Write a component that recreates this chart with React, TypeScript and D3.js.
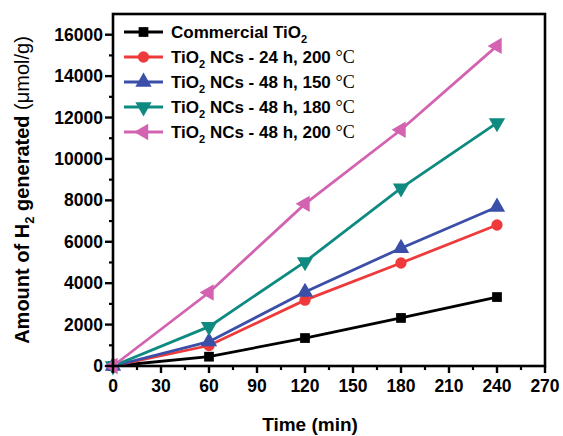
import React from "react";
import * as d3 from "d3";

const times = [0, 60, 120, 180, 240];
const seriesNames = [
  "Commercial TiO|2",
  "TiO|2| NCs - 24 h, 200 ",
  "TiO|2| NCs - 48 h, 150 ",
  "TiO|2| NCs - 48 h, 180 ",
  "TiO|2| NCs - 48 h, 200 ",
];
const commercial = [0, 450, 1350, 2320, 3330];
const nc24h200 = [0, 990, 3180, 4975, 6810];
const nc48h150 = [0, 1175, 3570, 5690, 7680];
const nc48h180 = [0, 1900, 5030, 8590, 11740];
const nc48h200 = [0, 3550, 7830, 11410, 15460];
const colors = ["#000000", "#ee3a3a", "#3b4ea8", "#0e8a80", "#d363b1"];
const markers = ["square", "circle", "up", "down", "left"];
const xTicks = [0, 30, 60, 90, 120, 150, 180, 210, 240, 270];
const yTicks = [0, 2000, 4000, 6000, 8000, 10000, 12000, 14000, 16000];

const allSeries = [commercial, nc24h200, nc48h150, nc48h180, nc48h200];

const W = 563, H = 436;
const L = 113, R = 545, T = 14, B = 366;
const font = "'Liberation Sans', Arial, sans-serif";

function Marker({ type, x, y, color }: { type: string; x: number; y: number; color: string }) {
  let path = "";
  let rot = 0;
  if (type === "square") path = d3.symbol(d3.symbolSquare, 95)()!;
  else if (type === "circle") path = d3.symbol(d3.symbolCircle, 100)()!;
  else {
    path = d3.symbol(d3.symbolTriangle, 115)()!;
    rot = type === "up" ? 0 : type === "down" ? 180 : -90;
  }
  return <path d={path} transform={`translate(${x},${y}) rotate(${rot})`} fill={color} />;
}

function Label({ name, x, y }: { name: string; x: number; y: number }) {
  const parts = name.split("|");
  const hasDeg = !name.startsWith("Commercial");
  return (
    <text x={x} y={y} fontFamily={font} fontWeight="bold" fontSize={17} fill="#000">
      {parts.map((p, i) =>
        i % 2 === 1 ? (
          <tspan key={i} fontSize={11} dy={5}>{p}</tspan>
        ) : (
          <tspan key={i} dy={i > 0 ? -5 : 0}>{p}</tspan>
        )
      )}
      {hasDeg && (
        <tspan fontFamily="'Liberation Serif', 'Times New Roman', serif" fontWeight="normal" fontSize={18}>°C</tspan>
      )}
    </text>
  );
}

export default function App() {
  const x = d3.scaleLinear().domain([0, 270]).range([L, R]);
  const y = d3.scaleLinear().domain([0, 17000]).range([B, T]);
  const line = d3.line<number>().x((_, i) => x(times[i])).y((v) => y(v));
  const xMinor = d3.range(15, 270, 30);
  const yMinor = d3.range(1000, 17000, 2000);

  return (
    <svg width={W} height={H} style={{ position: "absolute", left: 0, top: 0, background: "#fff" }}>
      {allSeries.map((s, k) => (
        <g key={k}>
          <path d={line(s)!} fill="none" stroke={colors[k]} strokeWidth={2.8} />
          {s.map((v, i) => (
            <Marker key={i} type={markers[k]} x={x(times[i])} y={y(v)} color={colors[k]} />
          ))}
        </g>
      ))}
      <rect x={L} y={T} width={R - L} height={B - T} fill="none" stroke="#000" strokeWidth={2.6} />
      {xTicks.map((t) => (
        <g key={t}>
          <line x1={x(t)} x2={x(t)} y1={B} y2={B + 7} stroke="#000" strokeWidth={2.4} />
          <text x={x(t)} y={392} textAnchor="middle" fontFamily={font} fontWeight="bold" fontSize={17.5}>{t}</text>
        </g>
      ))}
      {xMinor.map((t) => (
        <line key={t} x1={x(t)} x2={x(t)} y1={B} y2={B + 4} stroke="#000" strokeWidth={2.2} />
      ))}
      {yTicks.map((t) => (
        <g key={t}>
          <line x1={L - 8} x2={L} y1={y(t)} y2={y(t)} stroke="#000" strokeWidth={2.4} />
          <text x={L - 10} y={y(t) + 6} textAnchor="end" fontFamily={font} fontWeight="bold" fontSize={17.5}>{t}</text>
        </g>
      ))}
      {yMinor.map((t) => (
        <line key={t} x1={L - 4} x2={L} y1={y(t)} y2={y(t)} stroke="#000" strokeWidth={2.2} />
      ))}
      {seriesNames.map((n, k) => {
        const cy = 32 + k * 25;
        return (
          <g key={k}>
            <line x1={124} x2={163} y1={cy} y2={cy} stroke={colors[k]} strokeWidth={2.8} />
            <Marker type={markers[k]} x={143.5} y={cy} color={colors[k]} />
            <Label name={n} x={171} y={cy + 6} />
          </g>
        );
      })}
      <text x={310} y={431} textAnchor="middle" fontFamily={font} fontWeight="bold" fontSize={19}>Time (min)</text>
      <text transform={`translate(29,190) rotate(-90)`} textAnchor="middle" fontFamily={font} fontWeight="bold" fontSize={20}>
        Amount of H<tspan fontSize={13} dy={5}>2</tspan><tspan dy={-5}> generated </tspan>
        <tspan fontWeight="normal">(μmol/g)</tspan>
      </text>
    </svg>
  );
}
